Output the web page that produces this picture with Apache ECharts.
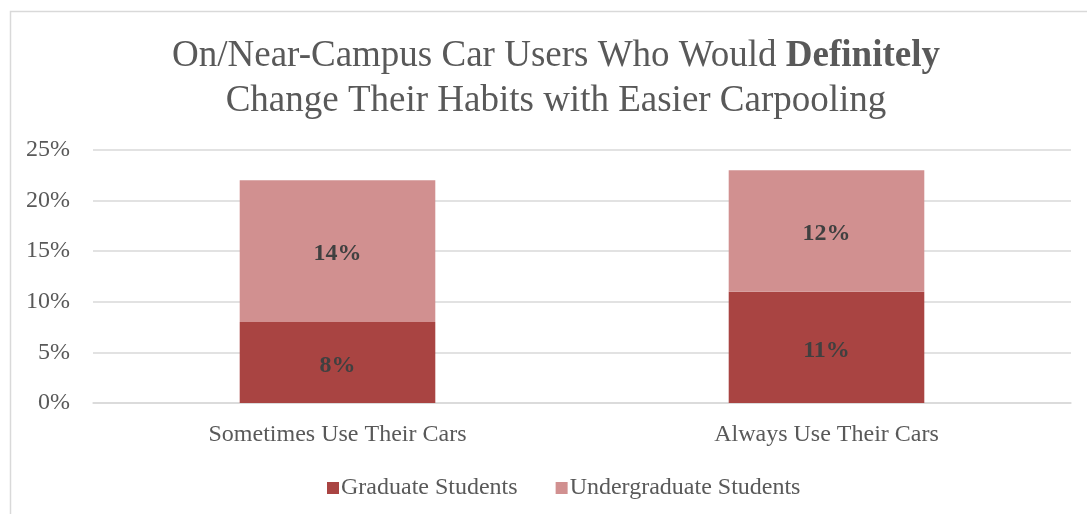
<!DOCTYPE html>
<html>
<head>
<meta charset="utf-8">
<script src="https://cdn.jsdelivr.net/npm/echarts@6/dist/echarts.min.js"></script>
<style>
  html, body { margin: 0; padding: 0; background: #fff; }
  #chart { width: 1087px; height: 514px; }
</style>
</head>
<body>
<div id="chart"></div>
<script>
// Share of on/near-campus car users who would definitely change habits
const categories = ['Sometimes Use Their Cars', 'Always Use Their Cars'];
const graduate = [8, 11];
const undergraduate = [14, 12];
const seriesNames = ['Graduate Students', 'Undergraduate Students'];
const yTicks = [0, 5, 10, 15, 20, 25];

const serif = '"Liberation Serif", "Times New Roman", serif';
const chart = echarts.init(document.getElementById('chart'), null, { renderer: 'canvas' });

const labelStyle = {
  show: true,
  position: 'inside',
  offset: [0, 3],
  formatter: p => p.value + '%',
  fontFamily: serif,
  fontWeight: 'bold',
  fontSize: 24,
  color: '#404040'
};

chart.setOption({
  backgroundColor: '#ffffff',
  animation: false,
  graphic: [{
    type: 'rect',
    shape: { x: 10.5, y: 11.5, width: 1200, height: 600 },
    style: { fill: 'none', stroke: '#d9d9d9', lineWidth: 1.5 },
    silent: true
  }],
  title: {
    text: '{n|On/Near-Campus Car Users Who Would }{b|Definitely}\n{n|Change Their Habits with Easier Carpooling}',
    left: 551,
    textAlign: 'center',
    top: 29,
    textStyle: {
      fontWeight: 'normal',
      rich: {
        n: { fontFamily: serif, fontSize: 37, fontWeight: 'normal', color: '#595959', lineHeight: 45 },
        b: { fontFamily: serif, fontSize: 37, fontWeight: 'bold', color: '#595959', lineHeight: 45 }
      }
    }
  },
  legend: {
    data: seriesNames,
    left: 322,
    bottom: 9,
    itemWidth: 12,
    itemHeight: 12,
    itemGap: 38,
    icon: 'rect',
    textStyle: { fontFamily: serif, fontSize: 24, color: '#595959', padding: [0, 0, 0, -3] }
  },
  grid: { left: 93, right: 16, top: 150, bottom: 111, containLabel: false },
  xAxis: {
    type: 'category',
    data: categories,
    axisLine: { show: true, lineStyle: { color: '#d9d9d9', width: 1.5 } },
    axisTick: { show: false },
    axisLabel: { fontFamily: serif, fontSize: 24, color: '#595959', margin: 20 }
  },
  yAxis: {
    type: 'value',
    min: yTicks[0],
    max: yTicks[yTicks.length - 1],
    interval: yTicks[1] - yTicks[0],
    axisLine: { show: false },
    axisTick: { show: false },
    splitLine: { lineStyle: { color: '#d9d9d9', width: 1.5 } },
    axisLabel: { fontFamily: serif, fontSize: 24, color: '#595959', margin: 23, formatter: v => v + '%' }
  },
  series: [
    {
      name: seriesNames[0],
      type: 'bar',
      stack: 'total',
      data: graduate,
      barWidth: '40%',
      itemStyle: { color: '#a94442' },
      label: labelStyle
    },
    {
      name: seriesNames[1],
      type: 'bar',
      stack: 'total',
      data: undergraduate,
      barWidth: '40%',
      itemStyle: { color: '#d19090' },
      label: labelStyle
    }
  ]
});
</script>
</body>
</html>
